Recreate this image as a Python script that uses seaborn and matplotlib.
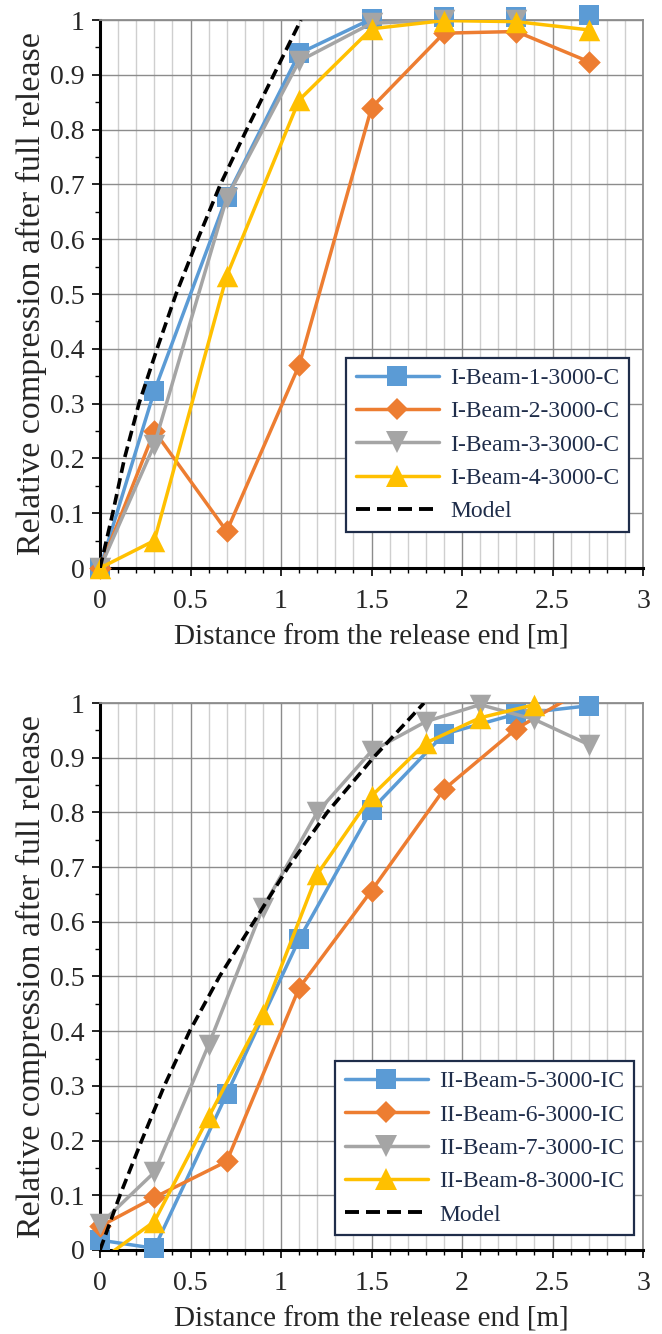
import pandas as pd
import matplotlib
matplotlib.use("Agg")
import matplotlib.pyplot as plt
from matplotlib.lines import Line2D
from matplotlib.ticker import MultipleLocator, FuncFormatter
import seaborn as sns

# ---- panel 1: I-Beam, compact release ----
x_ib = [0, 0.3, 0.7, 1.1, 1.5, 1.9, 2.3, 2.7]
ib1 = [0, 0.323, 0.677, 0.939, 1.002, 1.005, 1.005, 1.009]
ib2 = [0, 0.25, 0.067, 0.37, 0.84, 0.976, 0.979, 0.924]
x_ib3 = [0, 0.3, 0.7, 1.1, 1.5, 1.9, 2.3]
ib3 = [0, 0.225, 0.675, 0.925, 0.994, 1.0, 1.0]
ib4 = [0, 0.05, 0.533, 0.854, 0.984, 0.999, 0.997, 0.982]
model1_x = [0, 0.07, 0.135, 0.215, 0.315, 0.42, 0.54, 0.665, 0.81, 0.96, 1.11]
model1_y = [0, 0.1, 0.2, 0.3, 0.4, 0.5, 0.6, 0.7, 0.8, 0.9, 1.0]
labels1 = ["I-Beam-1-3000-C", "I-Beam-2-3000-C", "I-Beam-3-3000-C", "I-Beam-4-3000-C"]

# ---- panel 2: II-Beam, incremental release ----
x_ii = [0, 0.3, 0.7, 1.1, 1.5, 1.9, 2.3, 2.7]
ii5 = [0.018, 0.003, 0.285, 0.568, 0.805, 0.943, 0.98, 0.995]
ii6 = [0.043, 0.096, 0.162, 0.479, 0.657, 0.842, 0.953, 1.03]
x_ii7 = [0, 0.3, 0.6, 0.9, 1.2, 1.5, 1.8, 2.1, 2.4, 2.7]
ii7 = [0.047, 0.142, 0.375, 0.626, 0.80, 0.912, 0.966, 0.997, 0.97, 0.924]
x_ii8 = [0, 0.3, 0.6, 0.9, 1.2, 1.5, 1.8, 2.1, 2.4]
ii8 = [-0.02, 0.052, 0.243, 0.432, 0.687, 0.83, 0.927, 0.973, 0.997]
model2_x = [0, 0.11, 0.23, 0.355, 0.495, 0.66, 0.85, 1.04, 1.255, 1.51, 1.79]
model2_y = [0, 0.1, 0.2, 0.3, 0.4, 0.5, 0.6, 0.7, 0.8, 0.9, 1.0]
labels2 = ["II-Beam-5-3000-IC", "II-Beam-6-3000-IC", "II-Beam-7-3000-IC", "II-Beam-8-3000-IC"]

colors = ["#5B9BD5", "#ED7D31", "#A5A5A5", "#FFC000"]
markers = ["s", "D", "v", "^"]
msizes = [14.5, 11.5, 15.5, 15.5]

sns.set_style("ticks")
plt.rcParams["font.family"] = "serif"
plt.rcParams["font.serif"] = ["Liberation Serif", "DejaVu Serif"]

text_col = "#1f2d4a"
serif = ["Liberation Serif", "DejaVu Serif"]


def draw_panel(ax, xs_list, ys_list, mx, my, labels, anchor):
    for i, (xs, ys) in enumerate(zip(xs_list, ys_list)):
        df = pd.DataFrame({"x": xs, "y": ys})
        sns.lineplot(data=df, x="x", y="y", color=colors[i], lw=2.5, ax=ax,
                     zorder=3 + i, legend=False)
        shown = df[(df.y >= 0) & (df.y <= 1.02)]
        sns.scatterplot(data=shown, x="x", y="y", color=colors[i], marker=markers[i],
                        s=msizes[i] ** 2, linewidth=0, ax=ax, zorder=3.5 + i,
                        clip_on=False, legend=False)
    sns.lineplot(x=mx, y=my, color="black", lw=2.6, ax=ax, zorder=10,
                 linestyle=(0, (3.0, 1.5)), legend=False)

    ax.set_xlim(0, 3)
    ax.set_ylim(0, 1)
    ax.xaxis.set_major_locator(MultipleLocator(0.5))
    ax.xaxis.set_minor_locator(MultipleLocator(0.1))
    ax.yaxis.set_major_locator(MultipleLocator(0.1))
    ax.yaxis.set_minor_locator(MultipleLocator(0.05))
    fmt = FuncFormatter(lambda v, p: f"{v:g}")
    ax.xaxis.set_major_formatter(fmt)
    ax.yaxis.set_major_formatter(fmt)

    ax.set_axisbelow(True)
    ax.grid(which="major", axis="both", color="#8c8c8c", lw=1.0)
    ax.grid(which="minor", axis="x", color="#cfcfcf", lw=1.0)

    for s in ["left", "bottom"]:
        ax.spines[s].set_color("black")
        ax.spines[s].set_linewidth(2.2)
    for s in ["top", "right"]:
        ax.spines[s].set_color("#8c8c8c")
        ax.spines[s].set_linewidth(1.3)

    ax.tick_params(axis="both", which="major", direction="out", length=6, width=1.2,
                   color="black", labelsize=20)
    ax.tick_params(axis="both", which="minor", direction="out", length=3.5, width=1.0,
                   color="black")
    ax.tick_params(axis="x", which="major", pad=9)
    ax.tick_params(axis="y", which="major", pad=5)
    for t in ax.get_xticklabels() + ax.get_yticklabels():
        t.set_family(serif)

    ax.set_xlabel("Distance from the release end [m]", fontsize=21, labelpad=8,
                  family=serif)
    ax.set_ylabel("Relative compression after full release", fontsize=24.5,
                  labelpad=2, family=serif)

    handles = [Line2D([], [], color=colors[i], lw=2.5, marker=markers[i],
                      markersize=msizes[i], markeredgewidth=0) for i in range(4)]
    handles.append(Line2D([], [], color="black", lw=2.8, linestyle=(0, (3.6, 1.8))))
    leg = ax.legend(handles, labels + ["Model"], loc="lower right", bbox_to_anchor=anchor,
                    frameon=True, fancybox=False, edgecolor=text_col, framealpha=1,
                    prop={"family": serif, "size": 17}, handlelength=3.5,
                    handletextpad=0.5, labelspacing=0.5, borderpad=0.4,
                    borderaxespad=0)
    leg.get_frame().set_linewidth(1.6)
    leg.set_zorder(20)
    for t in leg.get_texts():
        t.set_color(text_col)


fig = plt.figure(figsize=(6.62, 13.34), dpi=100)
ax1 = fig.add_axes([0.1511, 0.5742, 0.8202, 0.4108])
ax2 = fig.add_axes([0.1511, 0.0630, 0.8202, 0.4100])

draw_panel(ax1, [x_ib, x_ib, x_ib3, x_ib], [ib1, ib2, ib3, ib4],
           model1_x, model1_y, labels1, (0.974, 0.066))
draw_panel(ax2, [x_ii, x_ii, x_ii7, x_ii8], [ii5, ii6, ii7, ii8],
           model2_x, model2_y, labels2, (0.983, 0.027))

fig.savefig("out.png", dpi=100)
